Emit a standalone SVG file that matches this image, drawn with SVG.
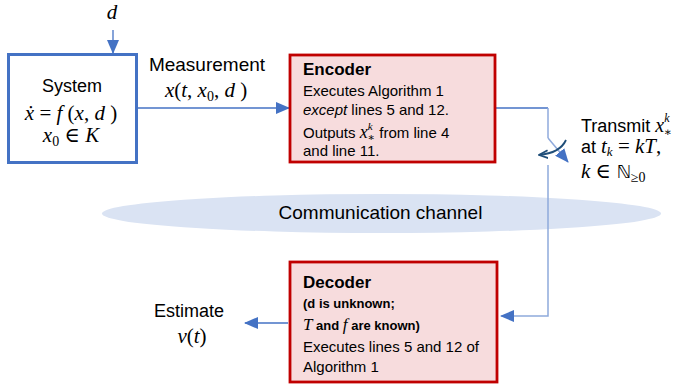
<svg xmlns="http://www.w3.org/2000/svg" width="682" height="385" viewBox="0 0 682 385">
<defs>
<style>
.sans{font-family:"Liberation Sans",Arial,sans-serif;fill:#000}
.math{font-family:"Liberation Serif","DejaVu Serif",serif;fill:#000}
.it{font-style:italic}
.conn{fill:none;stroke:#4472C4;stroke-width:1.3}
.connl{fill:none;stroke:#8FAADC;stroke-width:1.5}
.blk{fill:#F7DCDD;stroke:#C00000;stroke-width:2.8}
</style>
<marker id="ah" markerUnits="userSpaceOnUse" markerWidth="14" markerHeight="12" viewBox="0 0 14 12" refX="13" refY="6" orient="auto">
<path d="M0,0 L14,6 L0,12 Z" fill="#4472C4"/>
</marker>
<marker id="ahd" markerUnits="userSpaceOnUse" markerWidth="10" markerHeight="10" viewBox="0 0 10 10" refX="9" refY="5" orient="auto">
<path d="M0,1 L9,5 L0,9" fill="none" stroke="#1F4E79" stroke-width="1.8"/>
</marker>
</defs>
<rect width="682" height="385" fill="#fff"/>

<g id="channel">
<ellipse cx="381.5" cy="213.5" rx="279.5" ry="19.5" fill="#DAE3F3"/>
<text class="sans" x="380.5" y="219" font-size="19" text-anchor="middle">Communication channel</text>
</g>

<g id="connectors">
<path class="conn" d="M113,30 L113,53" marker-end="url(#ah)"/>
<path class="conn" d="M137,108 L289,108" marker-end="url(#ah)"/>
<path class="conn" d="M496,108 L548,108"/>
<path class="connl" d="M548,108 L548,138"/>
<path class="connl" d="M548,138 L568,162" marker-end="url(#ah)"/>
<path d="M566,140 Q560,153 539,155" fill="none" stroke="#1F4E79" stroke-width="1.8" marker-end="url(#ahd)"/>
<path class="connl" d="M548,165 L548,316 L501,316" marker-end="url(#ah)"/>
<path class="conn" d="M288,323 L245,323" marker-end="url(#ah)"/>
</g>

<g id="d-input">
<text class="math it" x="112" y="19" font-size="21" text-anchor="middle">d</text>
</g>

<g id="system">
<rect x="8.5" y="54.5" width="128" height="108" fill="#fff" stroke="#4472C4" stroke-width="3"/>
<text class="sans" x="72" y="92" font-size="18" text-anchor="middle">System</text>
<text class="math" x="71" y="120" font-size="21" text-anchor="middle"><tspan class="it">ẋ</tspan> = <tspan class="it">f</tspan> (<tspan class="it">x</tspan>, <tspan class="it">d</tspan> )</text>
<text class="math" x="71" y="142" font-size="21" text-anchor="middle"><tspan class="it">x</tspan><tspan font-size="14" dy="4">0</tspan><tspan dy="-4"> ∈ </tspan><tspan class="it">K</tspan></text>
</g>

<g id="measurement">
<text class="sans" x="207" y="71" font-size="19" text-anchor="middle">Measurement</text>
<text class="math" x="206" y="97" font-size="21" text-anchor="middle"><tspan class="it">x</tspan>(<tspan class="it">t</tspan>, <tspan class="it">x</tspan><tspan font-size="14" dy="4">0</tspan><tspan dy="-4">, </tspan><tspan class="it">d</tspan> )</text>
</g>

<g id="encoder">
<rect class="blk" x="290" y="55" width="205" height="107"/>
<text class="sans" x="303" y="75" font-size="17" font-weight="bold">Encoder</text>
<text class="sans" x="303" y="96" font-size="15">Executes Algorithm 1</text>
<text class="sans" x="303" y="115" font-size="15"><tspan font-style="italic">except</tspan> lines 5 and 12.</text>
<text class="sans" x="303" y="138" font-size="15">Outputs <tspan class="math it" font-size="18">x</tspan><tspan class="math it" font-size="11" dy="-8">k</tspan><tspan class="math" font-size="11" dx="-5" dy="11">∗</tspan><tspan dy="-3"> from line 4</tspan></text>
<text class="sans" x="303" y="156" font-size="15">and line 11.</text>
</g>

<g id="transmit">
<text class="sans" x="581" y="132" font-size="18">Transmit <tspan class="math it" font-size="20">x</tspan><tspan class="math it" font-size="12" dy="-10">k</tspan><tspan class="math" font-size="12" dx="-6" dy="14">∗</tspan></text>
<text class="sans" x="581" y="153" font-size="18">at <tspan class="math it" font-size="21">t</tspan><tspan class="math it" font-size="13" dy="3">k</tspan><tspan class="math" font-size="21" dy="-3"> = </tspan><tspan class="math it" font-size="21">kT</tspan><tspan class="math" font-size="21">,</tspan></text>
<text class="math" x="581" y="178" font-size="21"><tspan class="it">k</tspan> ∈ <tspan font-family="DejaVu Sans" font-size="18">ℕ</tspan><tspan font-size="14" dy="4">≥0</tspan></text>
</g>

<g id="decoder">
<rect class="blk" x="290" y="262" width="207" height="120"/>
<text class="sans" x="303" y="288" font-size="17" font-weight="bold">Decoder</text>
<text class="sans" x="303" y="308" font-size="13" font-weight="bold">(d is unknown;</text>
<text class="sans" x="303" y="330" font-size="13" font-weight="bold"><tspan class="math it" font-size="17" font-weight="normal">T</tspan> and <tspan class="math it" font-size="17" font-weight="normal">f</tspan> are known)</text>
<text class="sans" x="303" y="352" font-size="15">Executes lines 5 and 12 of</text>
<text class="sans" x="303" y="372" font-size="15">Algorithm 1</text>
</g>

<g id="estimate">
<text class="sans" x="189" y="317" font-size="18" text-anchor="middle">Estimate</text>
<text class="math" x="192" y="343" font-size="21" text-anchor="middle"><tspan class="it">ν</tspan>(<tspan class="it">t</tspan>)</text>
</g>
</svg>
